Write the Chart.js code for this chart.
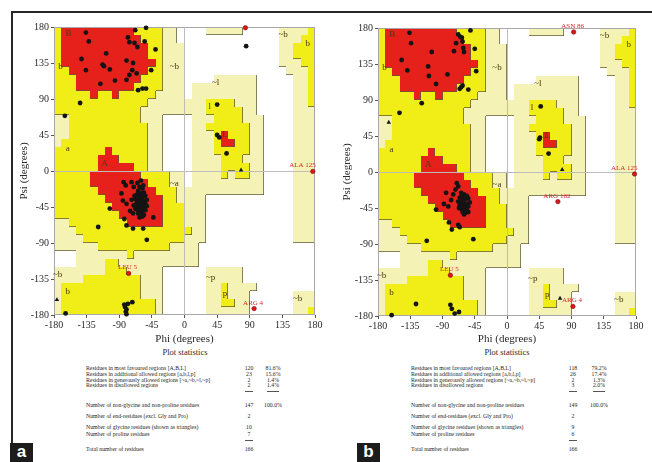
<!DOCTYPE html>
<html>
<head>
<meta charset="utf-8">
<script src="https://cdn.jsdelivr.net/npm/chart.js@4.4.0/dist/chart.umd.min.js"></script>
<style>
  body { margin: 0; background: #fff; width: 652px; height: 462px; overflow: hidden; position: relative; font-family: 'Liberation Serif', 'DejaVu Serif', serif; }
  .panel { position: absolute; top: 0; }
  .frame-top { position: absolute; left: 12px; top: 11px; width: 640px; height: 2px; background: #262626; }
  .frame-left { position: absolute; left: 11px; top: 11px; width: 2px; height: 432px; background: #262626; }
  .tag { position: absolute; width: 23px; height: 19px; background: #1c1c1c; color: #fff; font: bold 17px 'Liberation Sans', Arial, sans-serif; text-align: center; line-height: 17px; }
  .st { position: absolute; font-size: 5.8px; color: #262626; white-space: nowrap; line-height: 6px; }
  .st-title { position: absolute; font-size: 8.5px; color: #2a2a2a; white-space: nowrap; transform: translateX(-50%); }
  .dash { position: absolute; height: 0.8px; background: #555; }
</style>
</head>
<body>
<div class="frame-top"></div>
<div class="frame-left"></div>
<div class="panel" style="left:0;width:330px;height:346px"><canvas id="chartA" width="330" height="346"></canvas></div>
<div class="panel" style="left:330px;width:322px;height:346px"><canvas id="chartB" width="322" height="346"></canvas></div>
<div id="stats"></div>
<div class="tag" style="left:10px;top:443px">a</div>
<div class="tag" style="left:357px;top:443px">b</div>

<script>
// Region map, 10 degree cells. Row 0 = psi 170..180, column 0 = phi -180..-170.
// . disallowed, p generously allowed, y additionally allowed, R most favoured
const regionRows = [
  'yRRRRRRRRRRyyyypp.' + '...ppppp.....ppppy',
  'yRRRRRRRRRRRyyypp.' + '.............pppyy',
  'yRRRRRRRRRRRRyyppp' + '.............ppyyy',
  'yRRRRRRRRRRRRyyppp' + '.............ppyyy',
  'yRRRRRRRRRRRRRyppp' + '.............pppyy',
  'yyRRRRRRRRRRRyyppp' + '..............pppy',
  'yyyRRRRRRRRRyyyppp' + '....pppppp.....ppy',
  'yyyRRRRRRRRyyyyppp' + '.ppppppppp.....ppy',
  'yyyyyRyyRyyyyypppp' + '.ppppppppp.....ppy',
  'yyyyyyyyyyyyyppppp' + 'pppyyyyppp.....ppy',
  'yyyyyyyyyyyypppppp' + 'pppyyyyypp.....ppp',
  'ppyyyyyyyyyyppp...' + '.pppyyyyppp....ppp',
  'ppyyyyyyyyyyypp...' + '.ppyyyyyypp....ppp',
  'ppyyyyyyyyyyypp...' + '.pppyRyyypp....ppp',
  'pyyyyyyyyyyyypp...' + '.pppyRRyypp....ppp',
  'yyyyyyyRyyyyypp...' + '.pppyyyyypp....ppp',
  'yyyyyyRRRyyyypp...' + '.ppppyyyppp....ppp',
  'yyyyyyRRRRRyypp...' + '.ppppyyyypp....ppp',
  'yyyyyRRRRRRRyyyypp' + '.ppppypyypp....ppp',
  'yyyyyRRRRRRRRyyypp' + '.pppppppppp....ppp',
  'yyyyyyRRRRRRRRyyyp' + 'ppppppppppp....ppp',
  'yyyyyyyRRRRRRRRyyp' + 'ppp............ppp',
  'yyyyyyyyRRRRRRRyyy' + 'ppp............ppp',
  'yyyyyyyyyRRRRRRyyy' + 'ppp............ppp',
  'ppyyyyyyyyRRRRRyyy' + 'ppp............ppp',
  'pppyyyyyyyyyyyyyyy' + 'ypp............ppp',
  'ppppyyyyyyyyyyyyyy' + 'ppp............ppp',
  'ppppppyyyyyyyyyypp' + 'pp................',
  '...pppppppyppppppp' + 'pp................',
  '...ppppyyppppppppp' + 'pp................',
  'pppppppyyyppppp...' + '...ppppp..........',
  'ppppyyyyyyyyppp...' + '...ppppp..........',
  'pyyyyyyyyyyyppp...' + '...ppypppp........',
  'pyyyyyyyyyyyppp...' + '...ppyppp......ppp',
  'pyyyyyyyyyyyyyp...' + '...ppyypp......ppp',
  'pyyyyyyyyyyyyyp...' + '...pppppp......ppy'
];

const regionLabelText = ['B', 'b', 'A', 'a', '~a', '~b', '~l', 'l', 'L', '~b', 'b', '~b', 'b', '~p', 'p', '~b'];
const regionLabelPhi = [-160, -171, -110, -161, -14, -14, 43, 35, 56, 136, 170, -175, -161, 36, 56, 156];
const regionLabelPsi = [172, 130, 9, 28, -16, 130, 111, 80, 45, 170, 159, -130, -151, -133, -153, -160];

// Panel a residues [phi, psi]
const residuesA = [
  [-68, 176], [-53, 179], [-55, 162], [-136, 173], [-132, 162], [-108, 147], [-142, 140], [-136, 126],
  [-113, 133], [-111, 131], [-103, 127], [-116, 109], [-96, 113], [-78, 167], [-76, 161], [-69, 160],
  [-65, 155], [-80, 138], [-71, 135], [-76, 120], [-80, 114], [-72, 126], [-66, 122], [-46, 126],
  [-40, 152], [-64, 101], [-58, 103], [-53, 103], [-144, 85], [-165, 69], [85, 156],
  [45, 83], [45, 45], [48, 42], [58, 22],
  [-62, -20], [-58, -22], [-64, -25], [-60, -28], [-56, -27], [-66, -30], [-62, -32], [-58, -33],
  [-54, -31], [-68, -35], [-64, -36], [-60, -37], [-56, -38], [-52, -36], [-66, -40], [-62, -41],
  [-58, -42], [-54, -41], [-70, -43], [-64, -44], [-60, -45], [-56, -46], [-52, -44], [-66, -48],
  [-62, -49], [-58, -50], [-54, -49], [-64, -53], [-60, -54], [-56, -55], [-62, -58], [-58, -57],
  [-68, -47], [-61, -39], [-59, -47], [-63, -27], [-57, -18], [-65, -15], [-60, -12],
  [-84, -14], [-81, -18], [-73, -14], [-70, -20], [-87, -28], [-85, -37], [-80, -41], [-73, -36],
  [-69, -31], [-103, -47], [-83, -60], [-80, -68], [-71, -72], [-57, -72], [-119, -70], [-52, -86],
  [-43, -58], [-71, -53], [-75, -50],
  [-164, -178], [-82, -170], [-81, -176], [-80, -179], [-83, -167], [-78, -166], [-72, -164], [-80, -173]
];
const glycineA = [[78, 1], [-176, -161]];
const flaggedA = [[-77, -128], [96, -172], [177, -0.5], [84, 179]];
const flaggedNamesA = ['LEU 5', 'ARG 4', 'ALA 125', ''];

// Panel b residues [phi, psi]
const residuesB = [
  [-136, 174], [-134, 161], [-105, 150], [-147, 140], [-139, 127], [-110, 132], [-109, 120], [-83, 122],
  [-99, 110], [-74, 151], [-71, 161], [-68, 172], [-65, 169], [-62, 163], [-61, 155], [-60, 150],
  [-63, 168], [-51, 177], [-45, 154], [-43, 126], [-66, 104], [-64, 106], [-62, 108], [-54, 103],
  [-119, 86], [-150, 74],
  [47, 82], [45, 41], [46, 43], [58, 23],
  [-64, -26], [-60, -28], [-56, -30], [-66, -32], [-62, -33], [-58, -34], [-54, -33], [-68, -37],
  [-64, -38], [-60, -39], [-56, -40], [-52, -38], [-66, -42], [-62, -43], [-58, -44], [-54, -43],
  [-64, -46], [-60, -47], [-56, -48], [-62, -50], [-58, -51], [-54, -50], [-60, -53], [-64, -41],
  [-61, -36], [-59, -45], [-67, -45], [-63, -30], [-72, -22], [-68, -18], [-75, -28],
  [-70, -14], [-85, -26], [-82, -43], [-99, -47], [-81, -63], [-77, -72], [-68, -66], [-66, -69],
  [-47, -84], [-112, -86], [-78, -35], [-88, -40],
  [-161, -179], [-127, -165], [-79, -166], [-77, -171], [-73, -177], [-67, -175]
];
const glycineB = [[77, 3], [74, -158], [-165, 62]];
const flaggedB = [[-79, -129], [92, -168], [178, -2.5], [93, 175], [71, -37]];
const flaggedNamesB = ['LEU 5', 'ARG 4', 'ALA 125', 'ASN 86', 'ARG 162'];

const tickValues = [-180, -135, -90, -45, 0, 45, 90, 135, 180];

// Plot statistics
const statRows = [
  'Residues in most favoured regions  [A,B,L]',
  'Residues in additional allowed regions  [a,b,l,p]',
  'Residues in generously allowed regions  [~a,~b,~l,~p]',
  'Residues in disallowed regions',
  'Number of non-glycine and non-proline residues',
  'Number of end-residues (excl. Gly and Pro)',
  'Number of glycine residues (shown as triangles)',
  'Number of proline residues',
  'Total number of residues'
];
const countsA = [120, 23, 2, 2, 147, 2, 10, 7, 166];
const percentA = ['81.6%', '15.6%', '1.4%', '1.4%', '100.0%'];
const countsB = [118, 26, 2, 3, 149, 2, 9, 6, 166];
const percentB = ['79.2%', '17.4%', '1.3%', '2.0%', '100.0%'];

const cellColors = { p: '#f5f2b6', y: '#f1ed16', R: '#e6211c' };
const cellLevel = { '.': 0, p: 1, y: 2, R: 3 };

const regionPlugin = {
  id: 'regions',
  beforeDraw(chart) {
    const { ctx, chartArea, scales: { x, y } } = chart;
    const px = v => Math.round(x.getPixelForValue(v));
    const py = v => Math.round(y.getPixelForValue(v));
    ctx.save();
    for (let j = 0; j < 36; j++) {
      for (let i = 0; i < 36; i++) {
        const c = regionRows[j][i];
        if (c === '.') continue;
        const x0 = px(-180 + 10 * i), x1 = px(-170 + 10 * i);
        const y0 = py(180 - 10 * j), y1 = py(170 - 10 * j);
        ctx.fillStyle = cellColors[c];
        ctx.fillRect(x0, y0, x1 - x0, y1 - y0);
      }
    }
    // darker edge on the right and lower side of each region
    ctx.strokeStyle = 'rgba(95,90,55,0.75)';
    ctx.lineWidth = 1;
    ctx.beginPath();
    for (let j = 0; j < 36; j++) {
      for (let i = 0; i < 36; i++) {
        const lv = cellLevel[regionRows[j][i]];
        if (lv === 0) continue;
        const x0 = px(-180 + 10 * i), x1 = px(-170 + 10 * i);
        const y0 = py(180 - 10 * j), y1 = py(170 - 10 * j);
        if (i < 35 && cellLevel[regionRows[j][i + 1]] < lv) {
          ctx.moveTo(x1 - 0.5, y0);
          ctx.lineTo(x1 - 0.5, y1);
        }
        if (j < 35 && cellLevel[regionRows[j + 1][i]] < lv) {
          ctx.moveTo(x0, y1 - 0.5);
          ctx.lineTo(x1, y1 - 0.5);
        }
      }
    }
    ctx.stroke();
    ctx.strokeStyle = '#a8a8a8';
    ctx.strokeRect(chartArea.left + 0.5, chartArea.top + 0.5, chartArea.width - 1, chartArea.height - 1);
    ctx.restore();
  }
};

const labelPlugin = {
  id: 'labels',
  afterDatasetsDraw(chart, args, opts) {
    const { ctx, chartArea, scales: { x, y } } = chart;
    ctx.save();
    ctx.font = '9px "Liberation Serif", serif';
    ctx.fillStyle = '#4a3a10';
    ctx.textAlign = 'center';
    ctx.textBaseline = 'middle';
    regionLabelText.forEach((t, k) => {
      ctx.fillText(t, x.getPixelForValue(regionLabelPhi[k]), y.getPixelForValue(regionLabelPsi[k]));
    });
    ctx.font = '7px "Liberation Serif", serif';
    ctx.fillStyle = '#d8262a';
    ctx.textBaseline = 'alphabetic';
    opts.points.forEach((p, k) => {
      const name = opts.names[k];
      if (!name) return;
      const xp = x.getPixelForValue(p[0]);
      const yp = y.getPixelForValue(p[1]);
      if (xp > chartArea.right - 20) {
        ctx.textAlign = 'right';
        ctx.fillText(name, xp + 3, yp - 4);
      } else {
        ctx.textAlign = 'center';
        ctx.fillText(name, xp - 1, yp - 4);
      }
    });
    ctx.restore();
  }
};

function axis(titleText, fitSize, horizontal, titlePad) {
  return {
    type: 'linear',
    min: -180,
    max: 180,
    afterBuildTicks: s => { s.ticks = tickValues.map(v => ({ value: v })); },
    afterFit: s => { if (horizontal) s.height = fitSize; else s.width = fitSize; },
    ticks: {
      autoSkip: false,
      maxRotation: 0,
      padding: horizontal ? 1 : 2,
      color: '#2a2a2a',
      font: { family: 'Liberation Serif', size: 10 }
    },
    grid: {
      color: c => (c.tick && c.tick.value === 0 ? '#bdbdbd' : 'rgba(0,0,0,0)'),
      tickColor: '#555',
      tickLength: 3,
      lineWidth: 1
    },
    border: { display: false },
    title: {
      display: true,
      text: titleText,
      color: '#2a2a2a',
      font: { family: 'Liberation Serif', size: 11 },
      padding: { top: titlePad, bottom: 0 }
    }
  };
}

function toXY(list) {
  return list.map(p => ({ x: p[0], y: p[1] }));
}

function makeChart(id, residues, glycine, flagged, names, layout) {
  return new Chart(document.getElementById(id), {
    type: 'scatter',
    data: {
      datasets: [
        { data: toXY(residues), backgroundColor: '#141414', borderWidth: 0, pointRadius: 2.4, clip: 4 },
        { data: toXY(glycine), pointStyle: 'triangle', backgroundColor: '#141414', borderWidth: 0, pointRadius: 2.6, clip: 4 },
        { data: toXY(flagged), backgroundColor: '#e01515', borderColor: '#7a0a0a', borderWidth: 0.6, pointRadius: 2.2, clip: 6 }
      ]
    },
    options: {
      responsive: false,
      animation: false,
      events: [],
      layout: { padding: { left: 0, right: layout.right, top: layout.top, bottom: 0 } },
      scales: {
        x: axis('Phi (degrees)', layout.xHeight, true, layout.xTitlePad),
        y: axis('Psi (degrees)', layout.yWidth, false, layout.yTitlePad)
      },
      plugins: {
        legend: { display: false },
        tooltip: { enabled: false },
        labels: { points: flagged, names: names }
      }
    },
    plugins: [regionPlugin, labelPlugin]
  });
}

makeChart('chartA', residuesA, glycineA, flaggedA, flaggedNamesA,
  { right: 15, top: 27, xHeight: 31, yWidth: 54, xTitlePad: 2, yTitlePad: 18 });
makeChart('chartB', residuesB, glycineB, flaggedB, flaggedNamesB,
  { right: 16, top: 28, xHeight: 30, yWidth: 48, xTitlePad: 1, yTitlePad: 11 });

// statistics block under each plot
const rowY = [365, 370.8, 376.6, 382.4, 401.6, 413, 424.2, 431, 445.6];
function addStats(center, textLeft, col1, col2, counts, percents) {
  const box = document.getElementById('stats');
  const add = (cls, html, left, top, extra) => {
    const d = document.createElement('div');
    d.className = cls;
    d.innerHTML = html;
    d.style.left = left + 'px';
    d.style.top = top + 'px';
    if (extra) Object.assign(d.style, extra);
    box.appendChild(d);
    return d;
  };
  add('st-title', 'Plot statistics', center, 347);
  statRows.forEach((t, k) => {
    add('st', t, textLeft, rowY[k]);
    add('st', String(counts[k]), col1 - 8, rowY[k], { width: '16px', textAlign: 'center' });
    if (k < percents.length) add('st', percents[k], col2 - 10, rowY[k], { width: '20px', textAlign: 'center' });
  });
  add('dash', '', col1 - 4, 391, { width: '8px' });
  add('dash', '', col2 - 6, 391, { width: '12px' });
  add('dash', '', col1 - 4, 440, { width: '8px' });
}
addStats(185, 86, 249, 273, countsA, percentA);
addStats(507, 411, 573, 599, countsB, percentB);
</script>
</body>
</html>
